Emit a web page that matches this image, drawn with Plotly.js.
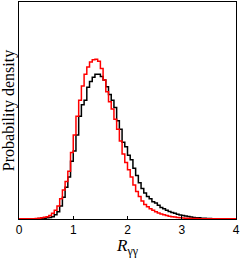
<!DOCTYPE html>
<html>
<head>
<meta charset="utf-8">
<script src="https://cdn.plot.ly/plotly-3.0.1.min.js"></script>
<style>html,body{margin:0;padding:0;background:#fff;}#chart{width:243px;height:258px;}</style>
</head>
<body>
<div id="chart"></div>
<script>
// Histogram bins: width 0.05 from 0 to 4 (left edges)
const binWidth = 0.05;

// Red histogram (probability density per bin, left-edge order from 0.00)
const redDensity = [
  0.001, 0.001, 0.001, 0.001, 0.002, 0.002, 0.003, 0.005, 0.008, 0.012,  // 0.00-0.45
  0.015, 0.025, 0.040, 0.060, 0.090, 0.140, 0.200, 0.260, 0.330, 0.460,  // 0.50-0.95
  0.580, 0.710, 0.820, 0.920, 1.000, 1.050, 1.085, 1.100, 1.104, 1.090,  // 1.00-1.45
  1.040, 0.960, 0.880, 0.810, 0.760, 0.690, 0.620, 0.540, 0.450, 0.390,  // 1.50-1.95
  0.340, 0.290, 0.235, 0.190, 0.155, 0.125, 0.100, 0.085, 0.070, 0.060,  // 2.00-2.45
  0.050, 0.042, 0.035, 0.030, 0.024, 0.019, 0.016, 0.013, 0.011, 0.009,  // 2.50-2.95
  0.007, 0.006, 0.005, 0.004, 0.003, 0.003, 0.002, 0.002, 0.002, 0.001,  // 3.00-3.45
  0.001, 0.001, 0.001, 0.001, 0.001, 0.001, 0.001, 0.001, 0.001, 0.001   // 3.50-3.95
];

// Black histogram
const blackDensity = [
  0.000, 0.000, 0.000, 0.001, 0.001, 0.001, 0.002, 0.003, 0.004, 0.005,  // 0.00-0.45
  0.008, 0.010, 0.016, 0.030, 0.050, 0.090, 0.150, 0.220, 0.290, 0.400,  // 0.50-0.95
  0.470, 0.580, 0.710, 0.790, 0.820, 0.910, 0.950, 0.980, 1.000, 1.000,  // 1.00-1.45
  0.985, 0.960, 0.915, 0.860, 0.820, 0.770, 0.680, 0.620, 0.530, 0.500,  // 1.50-1.95
  0.440, 0.410, 0.350, 0.300, 0.250, 0.210, 0.180, 0.155, 0.140, 0.120,  // 2.00-2.45
  0.110, 0.095, 0.080, 0.070, 0.060, 0.052, 0.045, 0.040, 0.033, 0.028,  // 2.50-2.95
  0.024, 0.020, 0.017, 0.014, 0.011, 0.009, 0.008, 0.006, 0.005, 0.004,  // 3.00-3.45
  0.003, 0.002, 0.002, 0.001, 0.001, 0.001, 0.001, 0.001, 0.001, 0.001   // 3.50-3.95
];

const xTickVals = [0, 1, 2, 3, 4];
const xTickText = ['0', '1', '2', '3', '4'];

function stepXY(vals) {
  const x = [], y = [];
  for (let i = 0; i < vals.length; i++) { x.push(i * binWidth); y.push(vals[i]); }
  x.push(vals.length * binWidth); y.push(vals[vals.length - 1]);
  return {x, y};
}

const b = stepXY(blackDensity), r = stepXY(redDensity);
const traces = [
  {x: b.x, y: b.y, type: 'scatter', mode: 'lines', line: {shape: 'hv', color: '#000000', width: 1.5}, hoverinfo: 'skip'},
  {x: r.x, y: r.y, type: 'scatter', mode: 'lines', line: {shape: 'hv', color: '#ff0000', width: 1.5}, hoverinfo: 'skip'}
];

const layout = {
  width: 243, height: 258,
  margin: {l: 19, r: 7, t: 2, b: 39, pad: 0},
  paper_bgcolor: '#ffffff', plot_bgcolor: '#ffffff',
  showlegend: false,
  xaxis: {
    range: [0, 4], tickvals: xTickVals, ticktext: xTickText,
    ticks: 'inside', ticklen: 3, tickcolor: '#000', tickwidth: 1,
    showline: true, linecolor: '#000', linewidth: 1, mirror: true,
    showgrid: false, zeroline: false,
    tickfont: {family: 'Liberation Sans, Arial, sans-serif', size: 12, color: '#000'},
    title: {text: '<i>R</i><sub>γγ</sub>', font: {family: 'Liberation Serif, serif', size: 17, color: '#000'}, standoff: 5}
  },
  yaxis: {
    range: [0, 1.5], showticklabels: false, ticks: '',
    showline: true, linecolor: '#000', linewidth: 1, mirror: true,
    showgrid: false, zeroline: false,
    title: {text: 'Probability density', font: {family: 'Liberation Serif, serif', size: 16, color: '#000'}, standoff: 2}
  }
};

Plotly.newPlot('chart', traces, layout, {displayModeBar: false, staticPlot: true});
</script>
</body>
</html>
